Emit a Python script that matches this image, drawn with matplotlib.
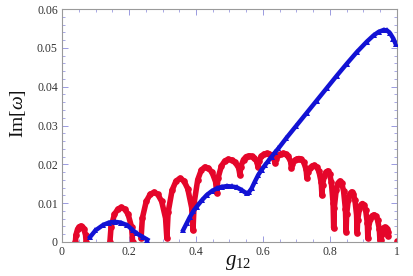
import matplotlib
matplotlib.use("Agg")
import matplotlib.pyplot as plt
from matplotlib.ticker import MultipleLocator, FuncFormatter
import numpy as np

plt.rcParams['mathtext.fontset'] = 'custom'
plt.rcParams['mathtext.rm'] = 'Liberation Serif'
plt.rcParams['mathtext.it'] = 'Liberation Serif:italic'
plt.rcParams['font.family'] = ['Liberation Serif', 'DejaVu Serif']

# ---- red series (circles): three separate branches ----
red1_x = [0.040, 0.0416, 0.0464, 0.0512, 0.056, 0.0608, 0.0656, 0.0704, 0.072]
red1_y = [0.0, 0.00178, 0.00328, 0.00391, 0.0041, 0.00391, 0.00328, 0.00178, 0.0]

red2_x = [0.143, 0.1464, 0.1566, 0.1668, 0.177, 0.1872, 0.1974, 0.2076, 0.211]
red2_y = [0.0, 0.00388, 0.00712, 0.00849, 0.0089, 0.00849, 0.00712, 0.00388, 0.0]

red3_x = [0.236, 0.23985, 0.2514, 0.26295, 0.2745, 0.28605, 0.2976, 0.30915,
          0.313, 0.3169, 0.3286, 0.3403, 0.352, 0.3637, 0.3754, 0.3871,
          0.391, 0.39455, 0.4052, 0.41585, 0.4265, 0.43715, 0.4478, 0.45845,
          0.462, 0.46545, 0.4758, 0.48615, 0.4965, 0.50685, 0.5172, 0.52755,
          0.531, 0.5337, 0.5418, 0.5499, 0.558, 0.5661, 0.5742, 0.5823,
          0.585, 0.58755, 0.5952, 0.60285, 0.6105, 0.61815, 0.6258, 0.63345,
          0.636, 0.63845, 0.6458, 0.65315, 0.6605, 0.66785, 0.6752, 0.68255,
          0.685, 0.6873, 0.6942, 0.7011, 0.708, 0.7149, 0.7218, 0.7287,
          0.731, 0.73325, 0.740, 0.74675, 0.7535, 0.76025, 0.767, 0.77375,
          0.776, 0.77775, 0.783, 0.78825, 0.7935, 0.79875, 0.804, 0.80925,
          0.811, 0.81285, 0.8184, 0.82395, 0.8295, 0.83505, 0.8406, 0.84615,
          0.848, 0.84965, 0.8546, 0.85955, 0.8645, 0.86945, 0.8744, 0.87935,
          0.881, 0.8826, 0.8874, 0.8922, 0.897, 0.9018, 0.9066, 0.9114,
          0.913, 0.9148, 0.9202, 0.9256, 0.931, 0.9364, 0.9418, 0.9472,
          0.949, 0.953, 0.954, 0.957, 0.960, 0.963, 0.966, 0.969, 0.972, 0.973]
red3_y = [0.001, 0.00614, 0.01044, 0.01226, 0.0128, 0.01226, 0.01044, 0.00614,
          0.001, 0.00771, 0.01332, 0.01569, 0.0164, 0.01578, 0.01372, 0.00884,
          0.003, 0.01011, 0.01604, 0.01855, 0.0193, 0.01899, 0.01796, 0.01552,
          0.0126, 0.01639, 0.01956, 0.0209, 0.0213, 0.02112, 0.0205, 0.01904,
          0.0173, 0.01944, 0.02122, 0.02197, 0.0222, 0.02207, 0.02162, 0.02056,
          0.0193, 0.02083, 0.0221, 0.02264, 0.0228, 0.02269, 0.0223, 0.02139,
          0.0203, 0.02139, 0.0223, 0.02269, 0.0228, 0.02263, 0.02204, 0.02066,
          0.019, 0.02009, 0.021, 0.02139, 0.0215, 0.02127, 0.0205, 0.01868,
          0.0165, 0.0179, 0.01906, 0.01955, 0.0197, 0.01935, 0.01816, 0.01536,
          0.012, 0.01475, 0.01704, 0.01801, 0.0183, 0.01762, 0.01536, 0.00999,
          0.0036, 0.00888, 0.01328, 0.01514, 0.0157, 0.0151, 0.0131, 0.00837,
          0.0027, 0.00715, 0.01086, 0.01243, 0.0129, 0.01242, 0.0108, 0.00698,
          0.0024, 0.00567, 0.0084, 0.00956, 0.0099, 0.00949, 0.00812, 0.00488,
          0.001, 0.00362, 0.0058, 0.00672, 0.007, 0.0067, 0.0057, 0.00333,
          0.0005, 0.0005, 0.00194, 0.00314, 0.00365, 0.0038, 0.00369, 0.00334, 0.0025, 0.0015]

red_dot_x = [1.0]
red_dot_y = [0.0003]

# ---- blue series (triangles) ----
blue1_x = [0.084, 0.100, 0.123, 0.140, 0.158, 0.175, 0.195, 0.212, 0.223, 0.243, 0.255]
blue1_y = [0.0013, 0.0030, 0.0044, 0.0050, 0.0052, 0.0050, 0.0043, 0.0030, 0.0022, 0.0012, 0.0006]

blue2_x = [0.362, 0.372, 0.382, 0.392, 0.402, 0.417, 0.432, 0.447, 0.462, 0.477,
           0.492, 0.507, 0.521, 0.536, 0.551, 0.558, 0.566, 0.576, 0.586, 0.596,
           0.606, 0.616, 0.626, 0.636, 0.646, 0.670, 0.700, 0.730, 0.760, 0.790,
           0.820, 0.850, 0.880, 0.910, 0.930, 0.945, 0.960, 0.970, 0.979, 0.989, 0.996]
blue2_y = [0.0031, 0.0048, 0.0065, 0.0079, 0.0091, 0.0107, 0.0121, 0.0131, 0.0138, 0.0142,
           0.0144, 0.0143, 0.0141, 0.0134, 0.0125, 0.0128, 0.0138, 0.0156, 0.0173, 0.0186,
           0.0198, 0.0209, 0.0220, 0.0231, 0.0241, 0.0268, 0.0300, 0.0332, 0.0364, 0.0396,
           0.0428, 0.0459, 0.0489, 0.0516, 0.0532, 0.0541, 0.0546, 0.0545, 0.0538, 0.0524, 0.0510]

xticks = [0, 0.2, 0.4, 0.6, 0.8, 1]
yticks = [0, 0.01, 0.02, 0.03, 0.04, 0.05, 0.06]

RED = '#E5062A'
BLUE = '#1212D4'

fig = plt.figure(figsize=(4.14, 2.76), dpi=100)
ax = fig.add_axes([62/414, 1-242/276, (397-62)/414, (242-9)/276])

for xs, ys in [(red1_x, red1_y), (red2_x, red2_y), (red3_x, red3_y)]:
    ax.plot(xs, ys, '-', color=RED, lw=4.0, solid_capstyle='round', zorder=2)
    ax.plot(xs, ys, 'o', color=RED, ms=4.8, mew=0, zorder=2)
ax.plot(red_dot_x, red_dot_y, 'o', color=RED, ms=4.8, mew=0, zorder=2)

for xs, ys in [(blue1_x, blue1_y), (blue2_x, blue2_y)]:
    ax.plot(xs, ys, '-', color=BLUE, lw=3.2, zorder=3)
    ax.plot(xs, ys, '^', color=BLUE, ms=5.0, mew=0, zorder=3)

ax.set_xlim(0, 1)
ax.set_ylim(0, 0.06)
ax.set_xticks(xticks)
ax.set_yticks(yticks)
ax.xaxis.set_minor_locator(MultipleLocator(0.05))
ax.yaxis.set_minor_locator(MultipleLocator(0.002))

def fmt(v, pos):
    return '%g' % v
ax.xaxis.set_major_formatter(FuncFormatter(fmt))
ax.yaxis.set_major_formatter(FuncFormatter(fmt))

for sp in ax.spines.values():
    sp.set_color('#9a9a9a')
    sp.set_linewidth(0.8)
ax.tick_params(which='both', direction='in', top=True, right=True, colors='#9a9ae0')
ax.tick_params(which='major', length=4, width=0.7, labelsize=8.5, labelcolor='#333333', pad=3)
ax.tick_params(which='minor', length=2.2, width=0.6)

fig.text(18/414, 1-114/276, r'$\mathrm{Im}[\omega]$', rotation=90, ha='center', va='center',
         fontsize=14, color='#111111')
fig.text(238/414, 1-262/276, r'$g_{12}$', ha='center', va='center', fontsize=15, color='#111111')

fig.savefig('out.png', dpi=100)
